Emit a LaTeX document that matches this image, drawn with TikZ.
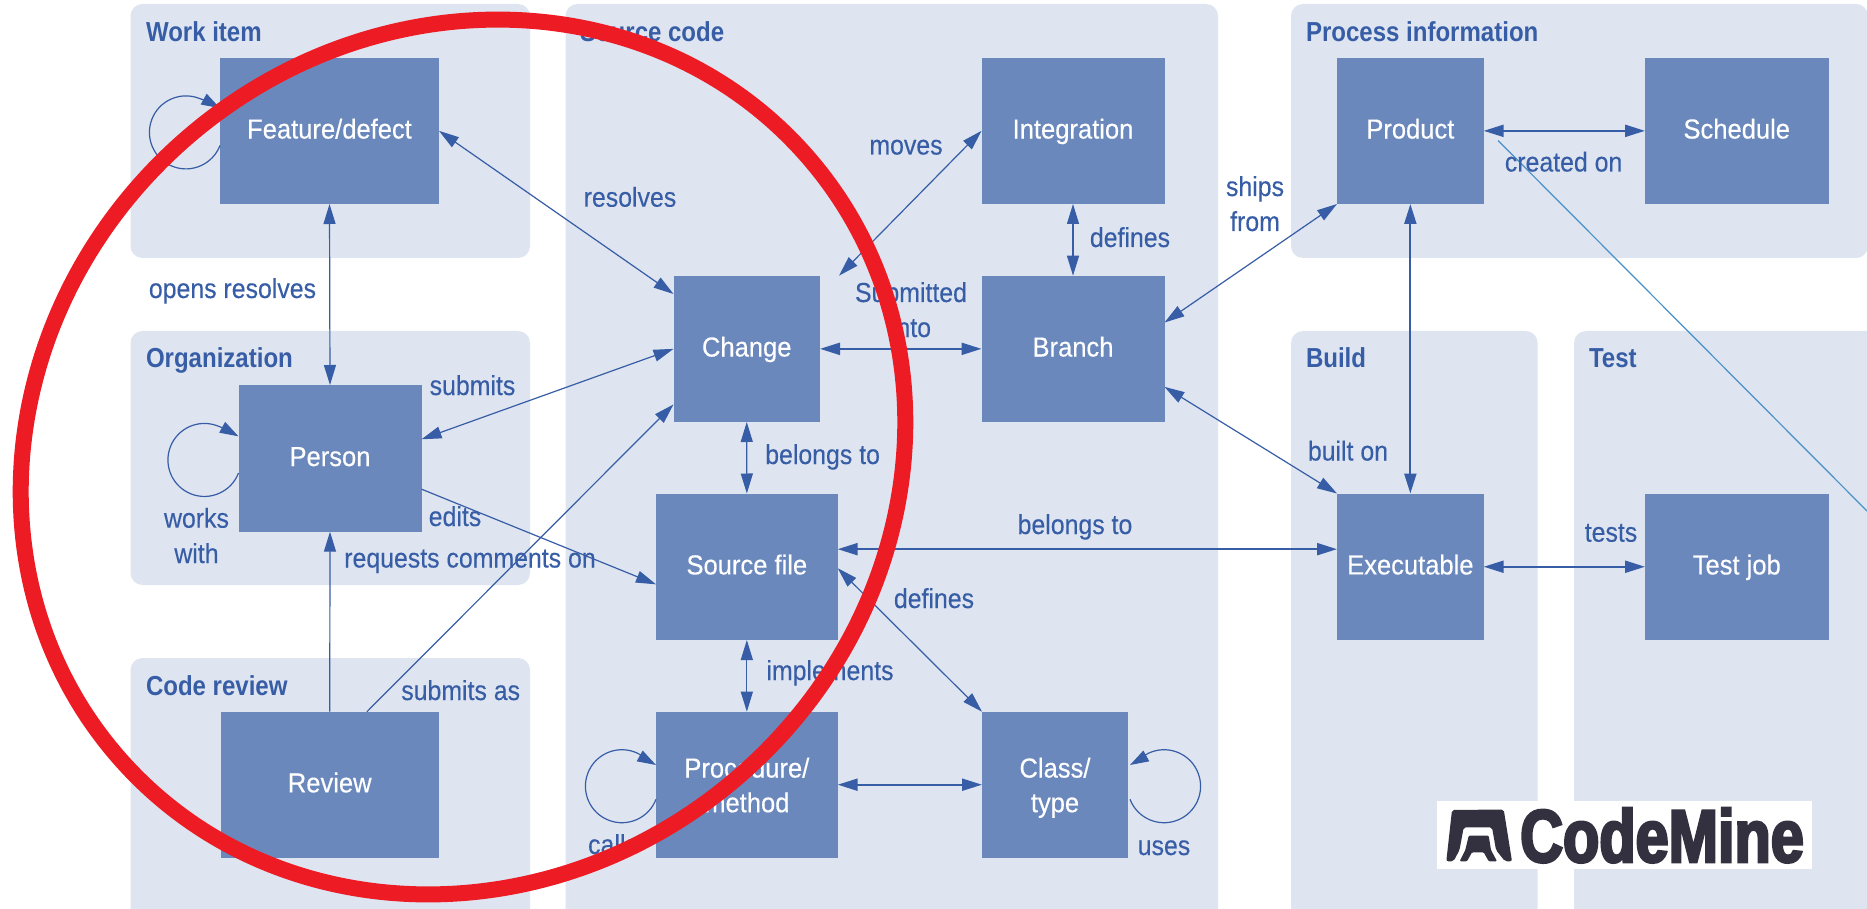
\documentclass[tikz,border=0pt]{standalone}
\usepackage{fontspec}
\setmainfont{Liberation Sans}
\newfontfamily\lblfont{Liberation Sans}[FakeStretch=0.905,FakeBold=0.2]
\newfontfamily\boxfont{Liberation Sans}[FakeStretch=0.93,FakeBold=0.35]
\newfontfamily\ttlfont{Liberation Sans}[FakeStretch=0.875]
\newfontfamily\logofont{Liberation Sans}[FakeStretch=0.795,BoldFeatures={FakeBold=3.5}]
\usetikzlibrary{arrows.meta,calc}
\definecolor{panelc}{HTML}{DEE4F0}
\definecolor{boxc}{HTML}{6A88BC}
\definecolor{linec}{HTML}{365DA5}
\definecolor{lightc}{HTML}{4A90C8}
\definecolor{ringc}{HTML}{ED1C24}
\definecolor{logoc}{HTML}{33313F}
\tikzset{
  panel/.style={fill=panelc,rounded corners=9pt,draw=none},
  box/.style n args={2}{fill=boxc,draw=none,inner sep=0pt,outer sep=0pt,text=white,align=center,
     minimum width=#1*0.75pt,minimum height=#2*0.75pt,
     font=\boxfont\fontsize{20.6pt}{26pt}\selectfont,text height=15pt,text depth=3.5pt},
  twolines/.style={text height=41.25pt,text depth=0pt},
  lbl/.style={inner sep=0pt,outer sep=0pt,anchor=base,text=linec,align=center,
     font=\lblfont\fontsize{20.6pt}{26pt}\selectfont},
  ttl/.style={inner sep=0pt,outer sep=0pt,anchor=base west,text=linec,
     font=\ttlfont\fontsize{20.6pt}{26pt}\selectfont\bfseries},
  thinl/.style={draw=linec,line width=0.9pt},
  thickl/.style={draw=linec,line width=1.6pt},
  both/.style={{Triangle[length=15pt,width=9pt]}-{Triangle[length=15pt,width=9pt]}},
  single/.style={-{Triangle[length=15pt,width=9pt]}},
  looparc/.style={draw=linec,line width=0.9pt,-{Triangle[length=14pt,width=9pt]}}
}
\begin{document}
\begin{tikzpicture}[x=0.75pt,y=-0.75pt]
\clip (0,0) rectangle (1867,909);
\fill[white] (0,0) rectangle (1867,909);
% panels
\path[panel] (130.5,4) rectangle (530,258);
\path[panel] (130.5,331) rectangle (530,585);
\path[panel] (130.5,658) rectangle (530,925);
\path[panel] (565.5,4) rectangle (1218,925);
\path[panel] (1291,4) rectangle (1868,258);
\path[panel] (1291,331) rectangle (1537.6,925);
\path[panel] (1574,331) rectangle (1880,925);
% titles
\node[ttl] (t1) at (146,42) {Work item};
\node[ttl] (t2) at (146,368) {Organization};
\node[ttl] (t3) at (146,695.7) {Code review};
\node[ttl] (t4) at (580,42) {Source code};
\node[ttl] (t5) at (1306,42) {Process information};
\node[ttl] (t6) at (1306,368) {Build};
\node[ttl] (t7) at (1589,368) {Test};
% boxes
\node[box={219}{146.3}] (feat) at (329.5,130.85) {Feature/defect};
\node[box={183}{146.7}] (pers) at (330,458.35) {Person};
\node[box={218.5}{146}] (rev) at (329.75,784.7) {Review};
\node[box={146.5}{146.3}] (chg) at (746.75,348.85) {Change};
\node[box={183}{146.3}] (intg) at (1073,130.85) {Integration};
\node[box={183}{146.3}] (brn) at (1073,348.85) {Branch};
\node[box={181.7}{146.5}] (src) at (746.85,566.75) {Source file};
\node[box={181.7}{146},twolines] (proc) at (746.85,784.7) {Procedure/\\method};
\node[box={146}{146},twolines] (cls) at (1055,784.7) {Class/\\type};
\node[box={146.7}{146.3}] (prod) at (1410.35,130.85) {Product};
\node[box={183.5}{146.3}] (sch) at (1736.75,130.85) {Schedule};
\node[box={146.7}{146.5}] (exe) at (1410.35,566.75) {Executable};
\node[box={183.5}{146.5}] (tst) at (1736.75,566.75) {Test job};
% free ends
\coordinate (chgfree) at ($(chg.north east)+(19,0)$);
\coordinate (la) at (1498,140.5);
\coordinate (lb) at (1867,511);
% connectors
\draw[thinl,both] (feat.east) -- ($(chg.north west)!.125!(chg.south west)$);
\draw[thinl,both] (feat.south) -- (pers.north);
\draw[thinl,both] ($(pers.north east)!.37!(pers.south east)$) -- (chg.west);
\draw[thinl,single] ($(pers.north east)!.71!(pers.south east)$) -- ($(src.north west)!.62!(src.south west)$);
\draw[thinl,single] (rev.north) -- (pers.south);
\draw[thinl,single] ($(rev.north west)!.67!(rev.north east)$) -- ($(chg.north west)!.88!(chg.south west)$);
\draw[thinl,both] (chgfree) -- (intg.west);
\draw[thickl,both] (chg.east) -- (brn.west);
\draw[thinl,both] (intg.south) -- (brn.north);
\draw[thinl,both] ($(brn.north east)!.32!(brn.south east)$) -- (prod.south west);
\draw[thinl,both] ($(brn.north east)!.76!(brn.south east)$) -- (exe.north west);
\draw[thickl,both] (prod.east) -- (sch.west);
\draw[thickl,both] (prod.south) -- (exe.north);
\draw[thickl,both] (exe.east) -- (tst.west);
\draw[thickl,both] ($(src.north east)!.38!(src.south east)$) -- ($(exe.north west)!.38!(exe.south west)$);
\draw[thinl,both] ($(src.north east)!.51!(src.south east)$) -- (cls.north west);
\draw[thinl,both] (chg.south) -- (src.north);
\draw[thinl,both] (src.south) -- (proc.north);
\draw[thickl,both] (proc.east) -- (cls.west);
\draw[draw=lightc,line width=0.9pt] (la) -- (lb);
% loops
\draw[looparc] ($(feat.north west)!.6!(feat.south west)$) arc[start angle=21,end angle=290,radius=36.5] .. controls +(7,2.5) and +(-9,-5) .. ($(feat.north west)!.345!(feat.south west)$);
\draw[looparc] ($(pers.north west)!.6!(pers.south west)$) arc[start angle=21,end angle=290,radius=36.5] .. controls +(7,2.5) and +(-9,-5) .. ($(pers.north west)!.35!(pers.south west)$);
\draw[looparc] ($(proc.north west)!.6!(proc.south west)$) arc[start angle=21,end angle=290,radius=36.5] .. controls +(7,2.5) and +(-9,-5) .. ($(proc.north west)!.365!(proc.south west)$);
\draw[looparc] ($(cls.north east)!.6!(cls.south east)+(2,0)$) arc[start angle=159,end angle=-110,radius=36.5] .. controls +(-7,2.5) and +(9,-5) .. ($(cls.north east)!.365!(cls.south east)+(2,0)$);
% labels
\node[lbl] (l1) at (630,206.7) {resolves};
\node[lbl] (l2) at (232.5,298) {opens resolves};
\node[lbl] (l3) at (472.5,395) {submits};
\node[lbl] (l4) at (196.5,527.7) {works};
\node[lbl] (l5) at (196.5,563) {with};
\node[lbl] (l6) at (455,526) {edits};
\node[lbl] (l7) at (470,567.5) {requests comments on};
\node[lbl] (l8) at (460.7,700) {submits as};
\node[lbl] (l9) at (613,854) {calls};
\node[lbl] (l10) at (1164,855) {uses};
\node[lbl] (l11) at (906,154.5) {moves};
\node[lbl] (l12) at (1130,247) {defines};
\node[lbl] (l13) at (911,302) {Submitted};
\node[lbl] (l14) at (911,337) {into};
\node[lbl] (l15) at (1255,196) {ships};
\node[lbl] (l16) at (1255,231) {from};
\node[lbl] (l17) at (822.6,464) {belongs to};
\node[lbl] (l18) at (1075,534) {belongs to};
\node[lbl] (l19) at (934,608) {defines};
\node[lbl] (l20) at (830,680) {implements};
\node[lbl] (l21) at (1563.6,171.5) {created on};
\node[lbl] (l22) at (1348,460.5) {built on};
\node[lbl] (l23) at (1611,541.7) {tests};
% logo
\fill[white] (1437,801) rectangle (1812,869);
\fill[logoc,rounded corners=1.5pt] (1446.3,861.3) -- (1452,810) -- (1503.7,809.5) -- (1512,861.3) -- (1505,861.3) -- (1496,850) -- (1492,827.3) -- (1463.7,827.3) -- (1459.5,850) -- (1453.5,861.3) -- cycle;
\fill[logoc,rounded corners=0.8pt] (1468.7,835.7) -- (1488.7,835.7) -- (1491,850) -- (1497,861.3) -- (1488.7,861.3) -- (1483.7,852.3) -- (1472,852.3) -- (1467,861.3) -- (1459.7,861.3) -- (1465.3,850) -- cycle;
\node[inner sep=0pt,outer sep=0pt,anchor=base,text=logoc,font=\logofont\fontsize{56pt}{60pt}\selectfont\bfseries] (logo) at (1662,862) {CodeMine};
% red ring
\draw[ringc,line width=12pt,rotate around={41:(463,457)}] (463,457) ellipse[x radius=457,y radius=422];
\end{tikzpicture}
\end{document}
